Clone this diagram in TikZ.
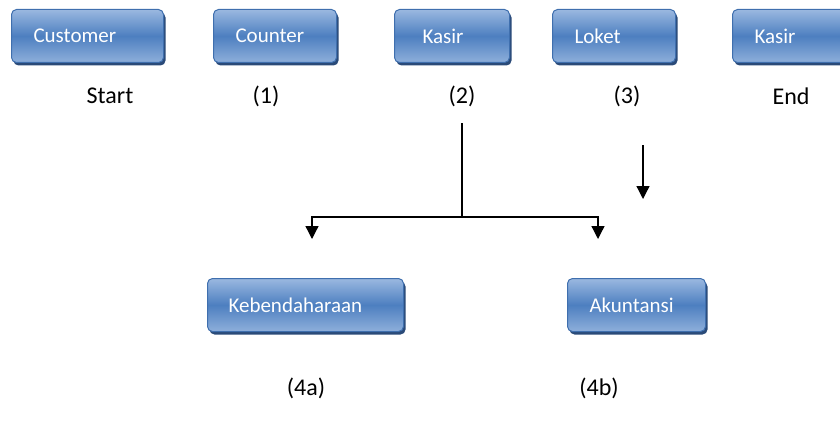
\documentclass[tikz,border=0pt]{standalone}
\usepackage{fontspec}
\setmainfont{Carlito}
\usetikzlibrary{arrows.meta,shadows}
\definecolor{boxtop}{HTML}{9AB8E0}
\definecolor{boxmid}{HTML}{4D7FC0}
\definecolor{boxbot}{HTML}{8EAFDB}
\definecolor{boxline}{HTML}{3F6FAE}
\definecolor{boxshadow}{HTML}{2A4A78}
\tikzset{
  x=1pt, y=-1pt,
  box/.style={draw=boxline, line width=1pt, rounded corners=5pt,
    top color=boxtop, bottom color=boxbot, middle color=boxmid,
    drop shadow={shadow xshift=2pt, shadow yshift=-3pt, fill=boxshadow, opacity=1},
    anchor=north west, minimum height=53pt, inner ysep=0pt,
    align=left, text=white, font=\fontsize{21}{24}\selectfont},
  lbl/.style={font=\fontsize{24}{28}\selectfont, text=black, inner sep=0pt},
  flow/.style={line width=1.3pt, draw=black},
  tip/.style={flow, -{Triangle[width=13pt,length=13pt]}}
}
\begin{document}
\begin{tikzpicture}
\useasboundingbox (0,0) rectangle (840,428);
% top row boxes
\node[box, inner xsep=22pt, text width=108pt] (cust) at (11,9) {Customer};
\node[box, inner xsep=22pt, text width=79pt] (count) at (213,9) {Counter};
\node[box, inner xsep=28pt, text width=59pt] (kasir) at (394,9) {Kasir};
\node[box, inner xsep=22pt, text width=79pt] (loket) at (552,9) {Loket};
\node[box, inner xsep=22pt, text width=79pt] (kasirend) at (732,9) {Kasir};
% bottom boxes
\node[box, inner xsep=21pt, text width=154pt] (keb) at (207,278) {Kebendaharaan};
\node[box, inner xsep=22pt, text width=94pt] (aku) at (567,278) {Akuntansi};
% labels
\node[lbl] (lstart) at (110,96) {Start};
\node[lbl] (l1) at (266,96) {(1)};
\node[lbl] (l2) at (462,96) {(2)};
\node[lbl] (l3) at (627,96) {(3)};
\node[lbl] (lend) at (791,96) {End};
\node[lbl] (l4a) at (306,388) {(4a)};
\node[lbl] (l4b) at (599,388) {(4b)};
% connectors
\coordinate (s2) at (462,123);
\coordinate (j) at (462,217);
\coordinate (ta) at (312,239);
\coordinate (tb) at (598,239);
\coordinate (s3) at (643,145);
\coordinate (t3) at (643,199);
\draw[flow] (s2) -- (j);
\draw[tip] (j) -| (ta);
\draw[tip] (j) -| (tb);
\draw[tip] (s3) -- (t3);
\end{tikzpicture}
\end{document}
